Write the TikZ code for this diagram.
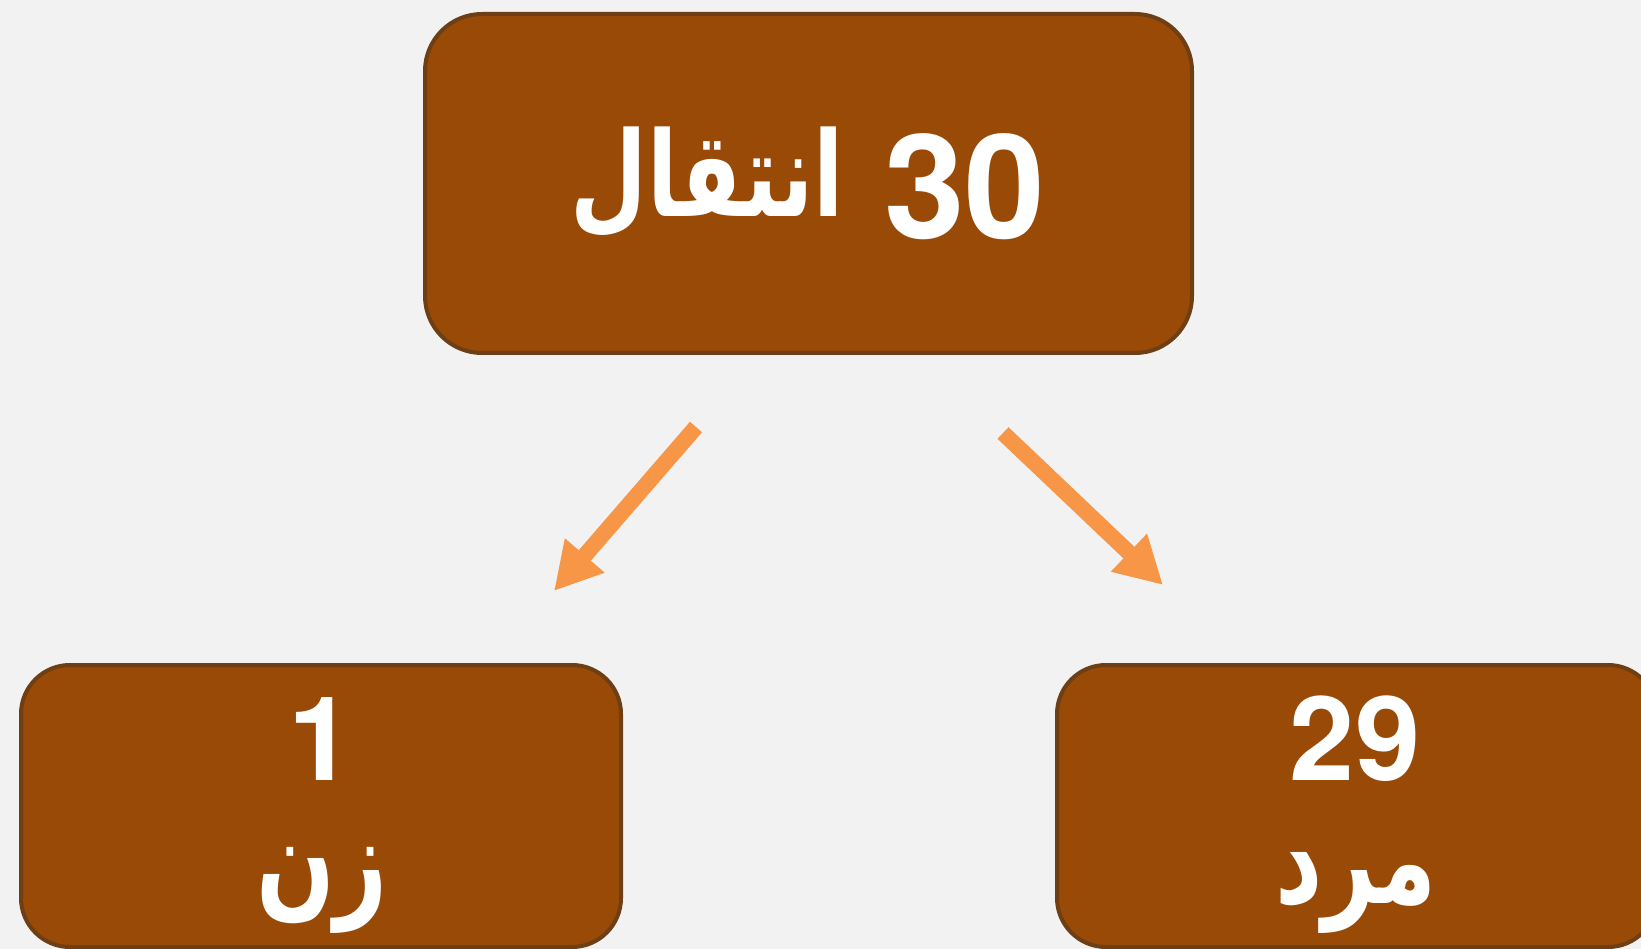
\documentclass[tikz,border=0pt]{standalone}
\usepackage{fontspec}
\setmainfont{TeX Gyre Heros}
\newfontfamily\arabicfont[Script=Arabic,FakeStretch=0.75]{DejaVu Sans}
\newfontfamily\digitfont{TeX Gyre Heros}
\TeXXeTstate=1
\usetikzlibrary{arrows.meta}
\usetikzlibrary{positioning}
\definecolor{boxfill}{RGB}{153,74,6}
\definecolor{boxline}{RGB}{110,62,20}
\definecolor{arrowcol}{RGB}{247,150,70}
\definecolor{backcol}{RGB}{242,242,242}
\tikzset{basic box/.style={draw=boxline,
                           fill=boxfill,
                           line width=4pt}}
\tikzset{big box/.style={basic box,rounded corners=57pt,
                         minimum width=767pt,minimum height=339pt}}
\tikzset{small box/.style={basic box,rounded corners=49pt,
                           minimum width=600pt,minimum height=282pt}}
\tikzset{box text/.style={text=white,inner sep=0pt}}
\tikzset{flow/.style={draw=arrowcol,
                      line width=16pt,
                      -{Triangle[length=47pt,width=49pt]}}}

\begin{document}
\begin{tikzpicture}
      [
      x=1pt,y=-1pt,
      big text/.style={box text,font=\bfseries\fontsize{145}{150}\selectfont},
      small text/.style={box text,font=\bfseries\fontsize{117}{120}\selectfont},
      ]

      % canvas
      \useasboundingbox (0,0) rectangle (1641,949);
      \fill [backcol] (0,0) rectangle (1641,949);
      \clip (0,0) rectangle (1641,949);

      % boxes
      \node [big box] (transfer) at (808.5,183.5) {};
      \node [small box] (woman) at (321,806) {};
      \node [small box] (man) at (1357,806) {};

      % labels
      \node [big text] (transfer label) at (808,183.5)
      {\beginR\beginL{\digitfont 30}\endL\ %
       \raisebox{22pt}{\arabicfont\fontsize{118}{120}\selectfont\beginR انتقال\endR}\endR};
      \node [small text,anchor=base] (woman count) at (321,780) {\digitfont 1};
      \node [small text,anchor=base] (woman label) at (322,903)
      {\arabicfont\fontsize{123}{125}\selectfont\beginR زن\endR};
      \node [small text,anchor=base] (man count) at (1355,780) {\digitfont 29};
      \node [small text,anchor=base] (man label) at (1356,903)
      {\arabicfont\fontsize{123}{125}\selectfont\beginR مرد\endR};

      % arrows
      \coordinate (to woman start) at (696,427);
      \coordinate (to woman end) at (554,591);
      \coordinate (to man start) at (1003,433);
      \coordinate (to man end) at (1163,585);
      \draw [flow] (to woman start) -- (to woman end);
      \draw [flow] (to man start) -- (to man end);

\end{tikzpicture}
\end{document}
